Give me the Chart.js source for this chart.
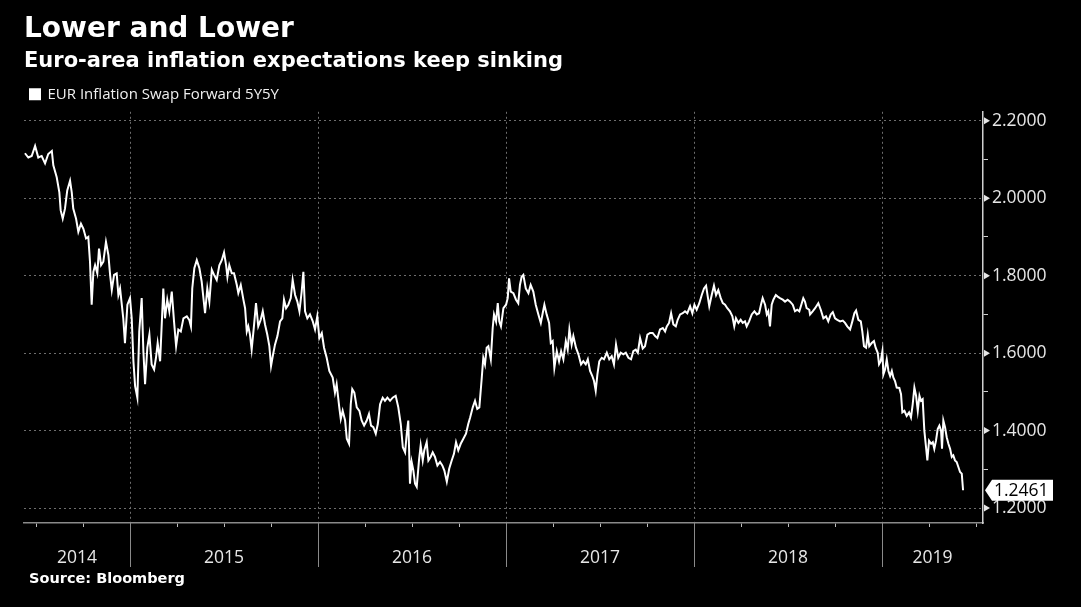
<!DOCTYPE html>
<html>
<head>
<meta charset="utf-8">
<script src="https://cdn.jsdelivr.net/npm/chart.js@4.4.0/dist/chart.umd.min.js"></script>
<style>
  html, body { margin: 0; padding: 0; background: #000; }
  #wrap { width: 1081px; height: 607px; }
</style>
</head>
<body>
<div id="wrap"><canvas id="swap-chart"></canvas></div>
<script>
// EUR 5y5y inflation swap forward (decimal year, value)
const years = [
  2014.441, 2014.459, 2014.477, 2014.495, 2014.512, 2014.530, 2014.548, 2014.565, 2014.584, 2014.592,
  2014.610, 2014.624, 2014.631, 2014.642, 2014.654, 2014.666, 2014.681, 2014.690, 2014.698, 2014.713,
  2014.725, 2014.739, 2014.752, 2014.766, 2014.778, 2014.787, 2014.796, 2014.805, 2014.814, 2014.826,
  2014.835, 2014.846, 2014.858, 2014.872, 2014.885, 2014.894, 2014.903, 2014.915, 2014.929, 2014.938,
  2014.947, 2014.964, 2014.973, 2014.986, 2015.000, 2015.009, 2015.018, 2015.027, 2015.039, 2015.049,
  2015.062, 2015.071, 2015.080, 2015.092, 2015.103, 2015.115, 2015.128, 2015.138, 2015.147, 2015.160,
  2015.177, 2015.186, 2015.198, 2015.209, 2015.222, 2015.234, 2015.245, 2015.257, 2015.270, 2015.284,
  2015.302, 2015.315, 2015.324, 2015.331, 2015.342, 2015.355, 2015.369, 2015.381, 2015.399, 2015.411,
  2015.422, 2015.435, 2015.447, 2015.461, 2015.475, 2015.488, 2015.500, 2015.511, 2015.518, 2015.528,
  2015.541, 2015.553, 2015.568, 2015.576, 2015.589, 2015.603, 2015.612, 2015.621, 2015.629, 2015.638,
  2015.647, 2015.660, 2015.670, 2015.682, 2015.695, 2015.706, 2015.718, 2015.730, 2015.741, 2015.750,
  2015.759, 2015.771, 2015.784, 2015.798, 2015.810, 2015.819, 2015.830, 2015.842, 2015.855, 2015.865,
  2015.878, 2015.890, 2015.901, 2015.913, 2015.922, 2015.931, 2015.943, 2015.957, 2015.972, 2015.984,
  2015.996, 2016.007, 2016.020, 2016.032, 2016.046, 2016.060, 2016.078, 2016.090, 2016.099, 2016.113,
  2016.121, 2016.131, 2016.144, 2016.153, 2016.165, 2016.174, 2016.182, 2016.193, 2016.206, 2016.220,
  2016.232, 2016.245, 2016.259, 2016.271, 2016.282, 2016.294, 2016.307, 2016.318, 2016.330, 2016.344,
  2016.356, 2016.369, 2016.383, 2016.397, 2016.413, 2016.427, 2016.440, 2016.451, 2016.463, 2016.472,
  2016.480, 2016.486, 2016.489, 2016.498, 2016.507, 2016.516, 2016.525, 2016.537, 2016.546, 2016.557,
  2016.565, 2016.578, 2016.587, 2016.599, 2016.610, 2016.622, 2016.635, 2016.649, 2016.661, 2016.672,
  2016.685, 2016.698, 2016.711, 2016.723, 2016.734, 2016.746, 2016.759, 2016.773, 2016.787, 2016.799,
  2016.809, 2016.823, 2016.835, 2016.847, 2016.858, 2016.871, 2016.879, 2016.888, 2016.897, 2016.906,
  2016.919, 2016.929, 2016.936, 2016.947, 2016.956, 2016.964, 2016.973, 2016.986, 2017.000, 2017.009,
  2017.016, 2017.025, 2017.039, 2017.053, 2017.065, 2017.074, 2017.083, 2017.092, 2017.105, 2017.119,
  2017.131, 2017.145, 2017.158, 2017.172, 2017.185, 2017.195, 2017.204, 2017.216, 2017.229, 2017.238,
  2017.248, 2017.257, 2017.270, 2017.282, 2017.293, 2017.305, 2017.318, 2017.328, 2017.337, 2017.349,
  2017.358, 2017.372, 2017.385, 2017.399, 2017.411, 2017.424, 2017.435, 2017.447, 2017.459, 2017.468,
  2017.477, 2017.486, 2017.496, 2017.509, 2017.521, 2017.536, 2017.549, 2017.562, 2017.574, 2017.585,
  2017.597, 2017.610, 2017.624, 2017.637, 2017.651, 2017.665, 2017.677, 2017.690, 2017.701, 2017.713,
  2017.727, 2017.739, 2017.752, 2017.766, 2017.780, 2017.793, 2017.805, 2017.819, 2017.834, 2017.846,
  2017.855, 2017.867, 2017.878, 2017.890, 2017.903, 2017.913, 2017.926, 2017.940, 2017.952, 2017.964,
  2017.979, 2017.991, 2018.002, 2018.014, 2018.028, 2018.041, 2018.053, 2018.064, 2018.073, 2018.081,
  2018.094, 2018.106, 2018.117, 2018.129, 2018.142, 2018.153, 2018.165, 2018.177, 2018.191, 2018.204,
  2018.214, 2018.223, 2018.236, 2018.248, 2018.259, 2018.271, 2018.280, 2018.293, 2018.307, 2018.321,
  2018.334, 2018.346, 2018.356, 2018.365, 2018.378, 2018.387, 2018.395, 2018.404, 2018.413, 2018.422,
  2018.435, 2018.445, 2018.457, 2018.472, 2018.484, 2018.498, 2018.511, 2018.525, 2018.537, 2018.549,
  2018.560, 2018.573, 2018.581, 2018.590, 2018.599, 2018.613, 2018.617, 2018.631, 2018.644, 2018.661,
  2018.674, 2018.688, 2018.702, 2018.714, 2018.727, 2018.738, 2018.750, 2018.762, 2018.777, 2018.791,
  2018.803, 2018.815, 2018.830, 2018.842, 2018.853, 2018.862, 2018.874, 2018.887, 2018.895, 2018.904,
  2018.915, 2018.924, 2018.932, 2018.945, 2018.957, 2018.966, 2018.977, 2018.984, 2018.993, 2019.002,
  2019.007, 2019.016, 2019.025, 2019.034, 2019.043, 2019.052, 2019.060, 2019.069, 2019.078, 2019.092,
  2019.101, 2019.108, 2019.119, 2019.131, 2019.144, 2019.154, 2019.163, 2019.172, 2019.181, 2019.190,
  2019.199, 2019.207, 2019.216, 2019.225, 2019.234, 2019.241, 2019.250, 2019.261, 2019.270, 2019.278,
  2019.287, 2019.296, 2019.305, 2019.314, 2019.319, 2019.326, 2019.335, 2019.344, 2019.353, 2019.362,
  2019.371, 2019.379, 2019.388, 2019.397, 2019.406, 2019.415, 2019.424, 2019.431
];
const swap5y5y = [
  2.116, 2.105, 2.109, 2.135, 2.105, 2.109, 2.090, 2.114, 2.122, 2.085,
  2.054, 2.015, 1.969, 1.947, 1.973, 2.020, 2.045, 2.015, 1.973, 1.947,
  1.913, 1.934, 1.921, 1.896, 1.900, 1.836, 1.725, 1.810, 1.827, 1.806,
  1.870, 1.827, 1.836, 1.887, 1.853, 1.802, 1.763, 1.802, 1.806, 1.750,
  1.767, 1.690, 1.626, 1.725, 1.742, 1.690, 1.579, 1.515, 1.485, 1.656,
  1.742, 1.605, 1.520, 1.614, 1.648, 1.571, 1.558, 1.588, 1.626, 1.579,
  1.767, 1.690, 1.738, 1.708, 1.759, 1.682, 1.618, 1.661, 1.656, 1.690,
  1.695, 1.686, 1.669, 1.767, 1.819, 1.840, 1.819, 1.785, 1.703, 1.767,
  1.733, 1.815, 1.802, 1.789, 1.827, 1.840, 1.860, 1.827, 1.797, 1.827,
  1.806, 1.806, 1.776, 1.755, 1.776, 1.738, 1.716, 1.656, 1.669, 1.648,
  1.609, 1.674, 1.729, 1.669, 1.686, 1.708, 1.674, 1.648, 1.618, 1.567,
  1.592, 1.622, 1.644, 1.682, 1.690, 1.738, 1.716, 1.725, 1.742, 1.789,
  1.750, 1.733, 1.708, 1.759, 1.810, 1.708, 1.690, 1.700, 1.682, 1.661,
  1.695, 1.639, 1.652, 1.614, 1.588, 1.554, 1.537, 1.498, 1.520, 1.460,
  1.430, 1.451, 1.426, 1.379, 1.366, 1.468, 1.507, 1.498, 1.460, 1.451,
  1.426, 1.413, 1.426, 1.443, 1.413, 1.409, 1.392, 1.417, 1.468, 1.485,
  1.477, 1.485, 1.477, 1.485, 1.490, 1.460, 1.417, 1.357, 1.344, 1.392,
  1.426, 1.323, 1.263, 1.319, 1.297, 1.263, 1.255, 1.323, 1.362, 1.323,
  1.349, 1.370, 1.323, 1.332, 1.344, 1.332, 1.310, 1.319, 1.310, 1.297,
  1.268, 1.302, 1.323, 1.340, 1.370, 1.349, 1.366, 1.379, 1.392, 1.417,
  1.434, 1.460, 1.477, 1.456, 1.460, 1.537, 1.588, 1.571, 1.614, 1.618,
  1.584, 1.665, 1.700, 1.682, 1.729, 1.682, 1.669, 1.716, 1.725, 1.742,
  1.793, 1.759, 1.755, 1.738, 1.729, 1.776, 1.797, 1.802, 1.767, 1.755,
  1.776, 1.759, 1.725, 1.700, 1.678, 1.703, 1.725, 1.700, 1.678, 1.626,
  1.631, 1.562, 1.605, 1.579, 1.605, 1.584, 1.631, 1.609, 1.661, 1.622,
  1.644, 1.614, 1.597, 1.571, 1.579, 1.571, 1.584, 1.554, 1.541, 1.528,
  1.503, 1.545, 1.579, 1.588, 1.584, 1.601, 1.584, 1.592, 1.571, 1.622,
  1.588, 1.601, 1.597, 1.601, 1.588, 1.584, 1.605, 1.609, 1.601, 1.639,
  1.612, 1.618, 1.648, 1.652, 1.652, 1.644, 1.639, 1.661, 1.665, 1.656,
  1.669, 1.678, 1.703, 1.674, 1.669, 1.686, 1.700, 1.703, 1.708, 1.703,
  1.721, 1.703, 1.725, 1.712, 1.729, 1.750, 1.767, 1.774, 1.746, 1.721,
  1.750, 1.774, 1.750, 1.763, 1.742, 1.729, 1.725, 1.716, 1.708, 1.695,
  1.669, 1.690, 1.678, 1.686, 1.678, 1.682, 1.669, 1.682, 1.700, 1.708,
  1.700, 1.703, 1.725, 1.742, 1.725, 1.700, 1.708, 1.669, 1.725, 1.738,
  1.750, 1.746, 1.742, 1.738, 1.733, 1.738, 1.733, 1.725, 1.708, 1.712,
  1.708, 1.729, 1.742, 1.733, 1.716, 1.712, 1.700, 1.708, 1.716, 1.729,
  1.712, 1.690, 1.695, 1.682, 1.700, 1.706, 1.690, 1.686, 1.682, 1.684,
  1.678, 1.669, 1.661, 1.682, 1.703, 1.710, 1.686, 1.682, 1.656, 1.618,
  1.614, 1.648, 1.618, 1.626, 1.631, 1.614, 1.601, 1.571, 1.579, 1.605,
  1.545, 1.558, 1.584, 1.554, 1.541, 1.554, 1.537, 1.528, 1.511, 1.510,
  1.494, 1.447, 1.451, 1.438, 1.447, 1.434, 1.468, 1.511, 1.490, 1.451,
  1.490, 1.477, 1.481, 1.400, 1.357, 1.323, 1.374, 1.366, 1.370, 1.353,
  1.374, 1.404, 1.413, 1.400, 1.353, 1.426, 1.409, 1.383, 1.366, 1.353,
  1.332, 1.336, 1.323, 1.319, 1.306, 1.293, 1.289, 1.2461
];
const seriesName = 'EUR Inflation Swap Forward 5Y5Y';
const yearLabels = ['2014', '2015', '2016', '2017', '2018', '2019'];
const yTicks = [1.2, 1.3, 1.4, 1.5, 1.6, 1.7, 1.8, 1.9, 2.0, 2.1, 2.2];

const X_MIN = 2014.436, X_MAX = 2019.537;
const Y_MIN = 1.1615, Y_MAX = 2.223;

const near = (a, b) => Math.abs(a - b) < 1e-6;
const isMajorY = v => near(v * 5, Math.round(v * 5));
const isYearStart = v => near(v, Math.round(v));

// one label per year, centred on the visible part of that year
const yearLabelPos = yearLabels.map(l => {
  const y0 = Math.max(+l, X_MIN), y1 = Math.min(+l + 1, X_MAX);
  return { value: (y0 + y1) / 2, label: l };
});
const quarterTicks = [];
yearLabels.forEach(l => {
  for (let q = 0; q < 4; q++) {
    const v = +l + q / 4;
    if (v >= X_MIN && v <= X_MAX) quarterTicks.push(v);
  }
});
const xTickValues = quarterTicks
  .concat(yearLabelPos.map(p => p.value).filter(v => !quarterTicks.some(q => near(q, v))))
  .sort((a, b) => a - b);
const labelAt = v => { const p = yearLabelPos.find(p => near(p.value, v)); return p ? p.label : ''; };
const isQuarter = v => quarterTicks.some(q => near(q, v));

const bgPlugin = {
  id: 'bg',
  beforeDraw(chart) {
    const { ctx, width, height } = chart;
    ctx.save();
    ctx.fillStyle = '#000';
    ctx.fillRect(0, 0, width, height);
    ctx.restore();
  }
};

const extrasPlugin = {
  id: 'extras',
  afterDraw(chart) {
    const { ctx, chartArea, scales: { x, y } } = chart;
    ctx.save();
    // year dividers under the axis
    ctx.strokeStyle = '#8a8a8a';
    ctx.lineWidth = 1;
    yearLabels.slice(1).forEach(l => {
      const px = Math.round(x.getPixelForValue(+l)) + 0.5;
      ctx.beginPath();
      ctx.moveTo(px, chartArea.bottom);
      ctx.lineTo(px, chartArea.bottom + 44);
      ctx.stroke();
    });
    // pointers on the major y ticks
    ctx.fillStyle = '#e6e6e6';
    y.ticks.forEach(t => {
      if (!isMajorY(t.value)) return;
      const py = y.getPixelForValue(t.value);
      const px = chartArea.right + 1;
      ctx.beginPath();
      ctx.moveTo(px, py - 3.5);
      ctx.lineTo(px + 6, py);
      ctx.lineTo(px, py + 3.5);
      ctx.closePath();
      ctx.fill();
    });
    // last value tag
    const last = swap5y5y[swap5y5y.length - 1];
    const py = y.getPixelForValue(last);
    const x0 = chartArea.right + 2;
    ctx.fillStyle = '#fff';
    ctx.beginPath();
    ctx.moveTo(x0, py);
    ctx.lineTo(x0 + 7, py - 10.5);
    ctx.lineTo(x0 + 68, py - 10.5);
    ctx.lineTo(x0 + 68, py + 10.5);
    ctx.lineTo(x0 + 7, py + 10.5);
    ctx.closePath();
    ctx.fill();
    ctx.fillStyle = '#000';
    ctx.font = '17.5px "Open Sans"';
    ctx.textBaseline = 'middle';
    ctx.textAlign = 'left';
    ctx.fillText(last.toFixed(4), x0 + 9, py + 1);
    // source line
    ctx.fillStyle = '#fff';
    ctx.font = 'bold 14.5px "DejaVu Sans"';
    ctx.fillText('Source: Bloomberg', 29, 579);
    ctx.restore();
  }
};

const ctx = document.getElementById('swap-chart').getContext('2d');
new Chart(ctx, {
  type: 'line',
  data: {
    datasets: [{
      label: seriesName,
      data: years.map((t, i) => ({ x: t, y: swap5y5y[i] })),
      borderColor: '#fff',
      backgroundColor: '#fff',
      borderWidth: 2,
      pointRadius: 0,
      tension: 0
    }]
  },
  options: {
    responsive: true,
    maintainAspectRatio: false,
    animation: false,
    layout: { padding: { left: 24, right: 0, top: 0, bottom: 0 } },
    plugins: {
      title: {
        display: true,
        text: 'Lower and Lower',
        align: 'start',
        color: '#fff',
        font: { family: 'DejaVu Sans', size: 28, weight: 'bold' },
        padding: { top: 13, bottom: 2 }
      },
      subtitle: {
        display: true,
        text: 'Euro-area inflation expectations keep sinking',
        align: 'start',
        color: '#fff',
        font: { family: 'DejaVu Sans', size: 21, weight: 'bold' },
        padding: { top: 0, bottom: 7 }
      },
      legend: {
        display: true,
        align: 'start',
        labels: {
          color: '#f0f0f0',
          boxWidth: 10,
          boxHeight: 10,
          padding: 6,
          font: { family: 'Open Sans', size: 15 }
        }
      },
      tooltip: { enabled: false }
    },
    scales: {
      x: {
        type: 'linear',
        min: X_MIN,
        max: X_MAX,
        afterBuildTicks: s => { s.ticks = xTickValues.map(v => ({ value: v })); },
        afterFit: s => { s.height = 84; },
        grid: {
          color: c => (c.tick && isYearStart(c.tick.value)) ? '#6e6e6e' : 'transparent',
          lineWidth: 1,
          tickLength: 4,
          tickColor: c => (c.tick && isQuarter(c.tick.value)) ? '#bdbdbd' : 'transparent'
        },
        border: { color: '#8a8a8a', width: 1.5, dash: [2, 3] },
        ticks: {
          autoSkip: false,
          maxRotation: 0,
          padding: 21,
          color: '#e6e6e6',
          font: { family: 'Open Sans', size: 17.5 },
          callback: v => labelAt(v)
        }
      },
      y: {
        position: 'right',
        min: Y_MIN,
        max: Y_MAX,
        afterBuildTicks: s => { s.ticks = yTicks.map(v => ({ value: v })); },
        afterFit: s => { s.width = 98; },
        grid: {
          color: c => (c.tick && isMajorY(c.tick.value)) ? '#6e6e6e' : 'transparent',
          lineWidth: 1,
          tickLength: 5,
          tickColor: c => (c.tick && !isMajorY(c.tick.value)) ? '#cfcfcf' : 'transparent'
        },
        border: { color: '#cfcfcf', width: 1.5, dash: [2, 3] },
        ticks: {
          padding: 4,
          color: '#e6e6e6',
          font: { family: 'Open Sans', size: 17.5 },
          callback: v => isMajorY(v) ? v.toFixed(4) : ''
        }
      }
    }
  },
  plugins: [bgPlugin, extrasPlugin]
});
</script>
</body>
</html>
